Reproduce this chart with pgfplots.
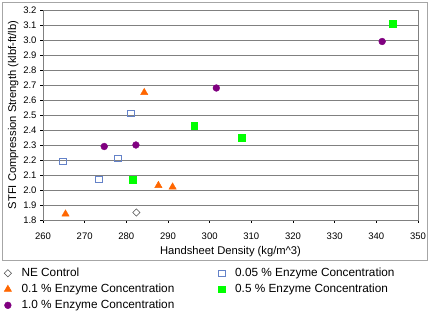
\documentclass[border=0pt]{standalone}
\usepackage{fontspec}
\setmainfont{Liberation Sans}
\usepackage{pgfplots}
\pgfplotsset{compat=1.18}
\definecolor{gridgray}{RGB}{128,128,128}
\definecolor{triorange}{RGB}{255,102,0}
\definecolor{sqblue}{RGB}{100,130,200}
\definecolor{sqgreen}{RGB}{0,255,0}
\definecolor{cpurple}{RGB}{128,0,128}
\begin{document}
\begin{tikzpicture}
\useasboundingbox (0,0) rectangle (432pt,315pt);
\draw[gray!70, line width=0.8pt] (2pt,55pt) rectangle (427pt,313pt);
\begin{axis}[
  at={(43pt,95pt)}, anchor=south west,
  scale only axis, width=375pt, height=210pt,
  xmin=260, xmax=350, ymin=1.8, ymax=3.2,
  xtick={260,270,...,350},
  ytick={1.8,1.9,...,3.2},
  yticklabel style={/pgf/number format/.cd, fixed, fixed zerofill, precision=1},
  /pgf/number format/assume math mode=true,
  ymajorgrids, grid style={gridgray, line width=0.6pt},
  axis line style={gridgray},
  tick style={black, line width=0.5pt},
  tick align=outside, major tick length=3pt,
  xtick pos=bottom, ytick pos=left,
  ticklabel style={font=\fontsize{9.5}{11}\selectfont},
  xticklabel style={yshift=-6pt},
  xlabel={Handsheet Density (kg/m\textasciicircum 3)},
  ylabel={STFI Compression Strength (klbf-ft/lb)},
  label style={font=\fontsize{11.2}{13}\selectfont},
  xlabel style={yshift=0pt},
  ylabel style={yshift=-2pt},
  legend columns=2,
  legend cell align=left,
  legend style={draw=none, fill=none, at={(-42pt,-44pt)}, anchor=north west,
    font=\fontsize{11.8}{13}\selectfont, row sep=2pt,
    /tikz/every odd column/.append style={column sep=8pt},
    /tikz/every even column/.append style={column sep=42pt}},
]
\addplot[only marks, mark=square, mark size=2.6pt, mark options={rotate=45, draw=black!70, fill=white, line width=0.5pt}] coordinates {(282.4,1.85)};
\addlegendentry{NE Control}
\addplot[only marks, mark=square, mark size=3.3pt, mark options={draw=sqblue, fill=white, line width=0.7pt}] coordinates {(264.8,2.19) (273.4,2.07) (277.9,2.21) (281.1,2.51)};
\addlegendentry{0.05 \% Enzyme Concentration}
\addplot[only marks, mark=triangle*, mark size=4.2pt, mark options={draw=triorange, fill=triorange}] coordinates {(265.4,1.84) (284.3,2.65) (287.7,2.03) (291.1,2.02)};
\addlegendentry{0.1 \% Enzyme Concentration}
\addplot[only marks, mark=square*, mark size=3.4pt, mark options={draw=sqgreen, fill=sqgreen}] coordinates {(281.5,2.07) (296.3,2.43) (307.7,2.35) (343.9,3.11)};
\addlegendentry{0.5 \% Enzyme Concentration}
\addplot[only marks, mark=*, mark size=3.4pt, mark options={draw=cpurple, fill=cpurple}] coordinates {(274.7,2.29) (282.3,2.30) (301.6,2.68) (341.4,2.99)};
\addlegendentry{1.0 \% Enzyme Concentration}
\end{axis}
\end{tikzpicture}
\end{document}
